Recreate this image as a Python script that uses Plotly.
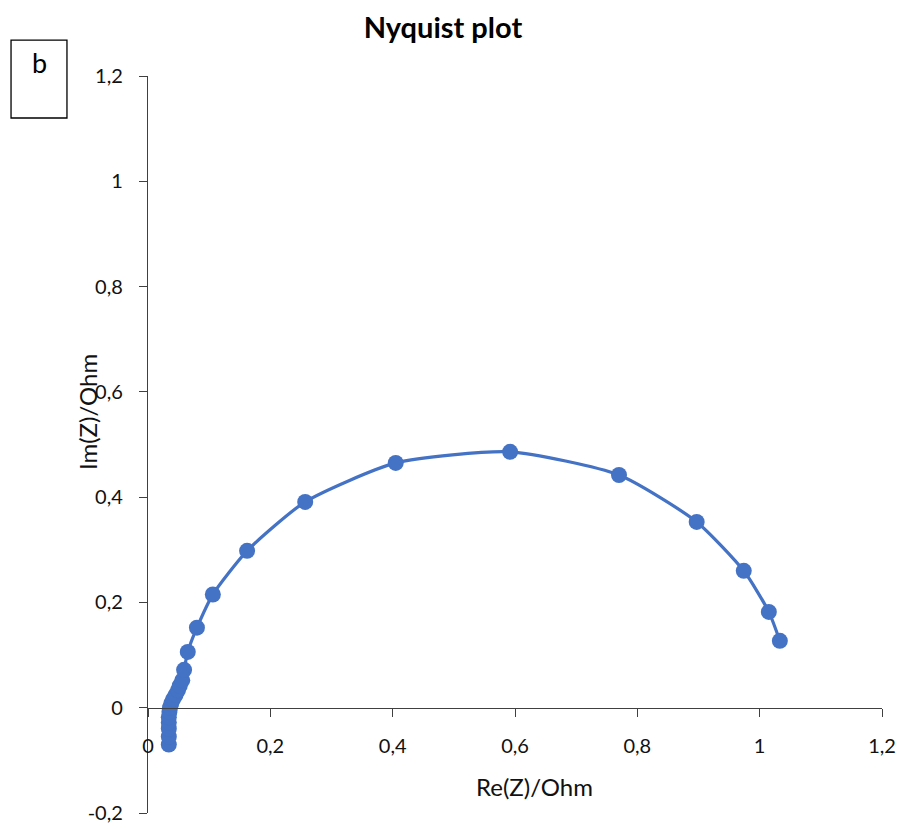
import plotly.graph_objects as go

re_z = [0.034, 0.034, 0.034, 0.034, 0.034, 0.035, 0.036, 0.038, 0.041, 0.045, 0.049,
        0.052, 0.056, 0.059, 0.065, 0.080, 0.106, 0.162, 0.257, 0.405, 0.592, 0.770,
        0.897, 0.974, 1.015, 1.033]
im_z = [-0.070, -0.055, -0.040, -0.028, -0.018, -0.008, 0.000, 0.008, 0.016, 0.024, 0.033,
        0.042, 0.052, 0.072, 0.106, 0.152, 0.215, 0.298, 0.391, 0.465, 0.486, 0.442,
        0.353, 0.260, 0.182, 0.127]

x_ticks = [0, 0.2, 0.4, 0.6, 0.8, 1.0, 1.2]
x_labels = ["0", "0,2", "0,4", "0,6", "0,8", "1", "1,2"]
y_ticks = [-0.2, 0, 0.2, 0.4, 0.6, 0.8, 1.0, 1.2]
y_labels = ["-0,2", "0", "0,2", "0,4", "0,6", "0,8", "1", "1,2"]

BLUE = "#4472C4"
AX = "#404040"
FONT = "Lato, Open Sans, sans-serif"

fig = go.Figure()
fig.add_trace(go.Scatter(
    x=re_z, y=im_z, mode="lines+markers",
    line=dict(color=BLUE, width=3.2, shape="spline", smoothing=0.6),
    marker=dict(color=BLUE, size=16),
    cliponaxis=False, showlegend=False,
))

fig.update_layout(
    width=904, height=829,
    margin=dict(l=148, r=22, t=76, b=16, autoexpand=False),
    paper_bgcolor="white", plot_bgcolor="white",
    font=dict(family=FONT, size=20, color="#111"),
    title=dict(text="<b>Nyquist plot</b>", x=0.49, xref="container", y=0.966,
               yref="container", xanchor="center", yanchor="middle",
               font=dict(size=29, color="#000")),
    xaxis=dict(range=[0, 1.2], tickvals=x_ticks, ticktext=x_labels, automargin=False,
               anchor="free", position=1/7, showline=True, linecolor=AX, linewidth=1.3,
               ticks="outside", ticklen=8, tickcolor=AX, showgrid=False, zeroline=False,
               ticklabelstandoff=12),
    yaxis=dict(range=[-0.2, 1.2], tickvals=y_ticks, ticktext=y_labels, automargin=False,
               showline=True, linecolor=AX, linewidth=1.3,
               ticks="outside", ticklen=8, tickcolor=AX, showgrid=False, zeroline=False,
               ticklabelstandoff=12),
)

fig.add_annotation(text="Re(Z)/Ohm", xref="paper", yref="paper", x=0.527, y=0.0366,
                   xanchor="center", yanchor="middle",
                   showarrow=False, font=dict(size=24, color="#111"))
fig.add_annotation(text="Im(Z)/Ohm", xref="paper", yref="paper", x=-0.0831, y=0.544,
                   xanchor="center", yanchor="middle",
                   textangle=-90, showarrow=False, font=dict(size=24, color="#111"))

fig.add_shape(type="rect", xref="paper", yref="paper",
              x0=-0.1866, x1=-0.1104, y0=0.943, y1=1.0488,
              line=dict(color="#000", width=1.3), fillcolor="white")
fig.add_annotation(text="b", xref="paper", yref="paper", x=-0.1485, y=1.0185,
                   xanchor="center", yanchor="middle",
                   showarrow=False, font=dict(size=27, color="#000"))

fig.write_html("out.html", config={"displayModeBar": False},
               post_script="document.body.style.margin='0';")
